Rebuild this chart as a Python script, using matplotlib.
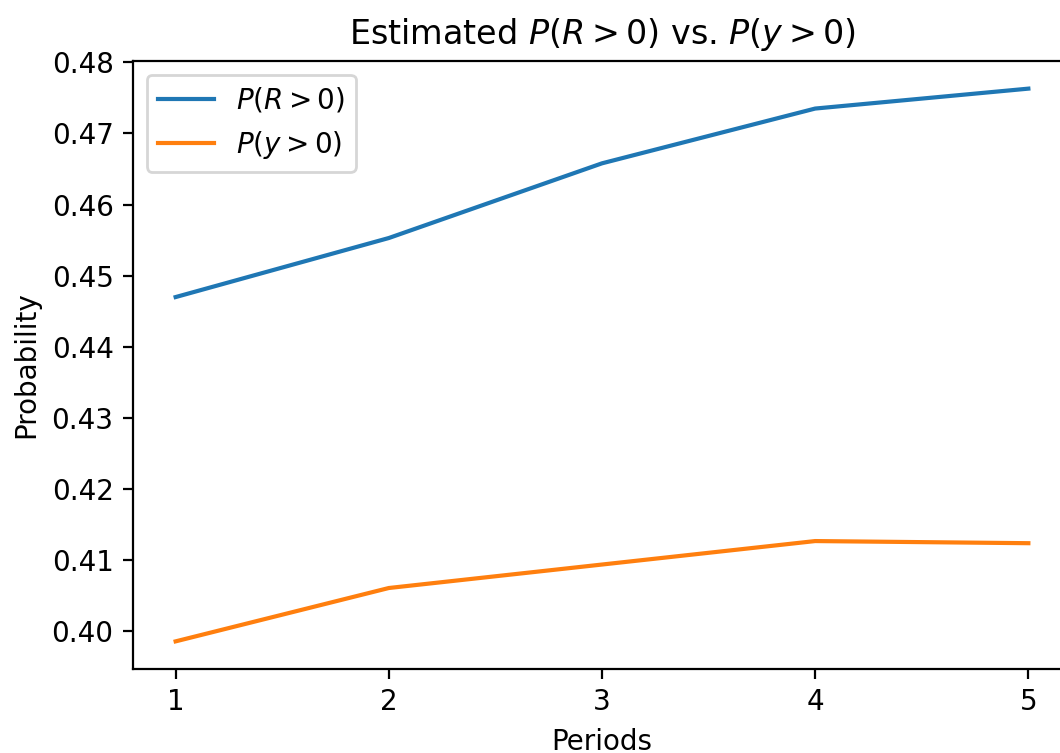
import matplotlib
matplotlib.use("Agg")
import matplotlib.pyplot as plt

periods = [1, 2, 3, 4, 5]
p_R = [0.4470, 0.4553, 0.4658, 0.4735, 0.4763]
p_y = [0.3986, 0.4061, 0.4094, 0.4127, 0.4124]

W, H, DPI = 1060, 753, 200
fig = plt.figure(figsize=(W / DPI, H / DPI), dpi=DPI)
ax = fig.add_axes([133 / W, (H - 669) / H, (1071 - 133) / W, (669 - 61) / H])
ax.plot(periods, p_R, label=r"$P(R > 0)$")
ax.plot(periods, p_y, label=r"$P(y > 0)$")
ax.set_xticks(periods)
ax.set_title(r"Estimated $P(R > 0)$ vs. $P(y > 0)$")
ax.set_xlabel("Periods")
ax.set_ylabel("Probability")
ax.legend(loc="upper left")
fig.savefig("out.png", dpi=DPI)
